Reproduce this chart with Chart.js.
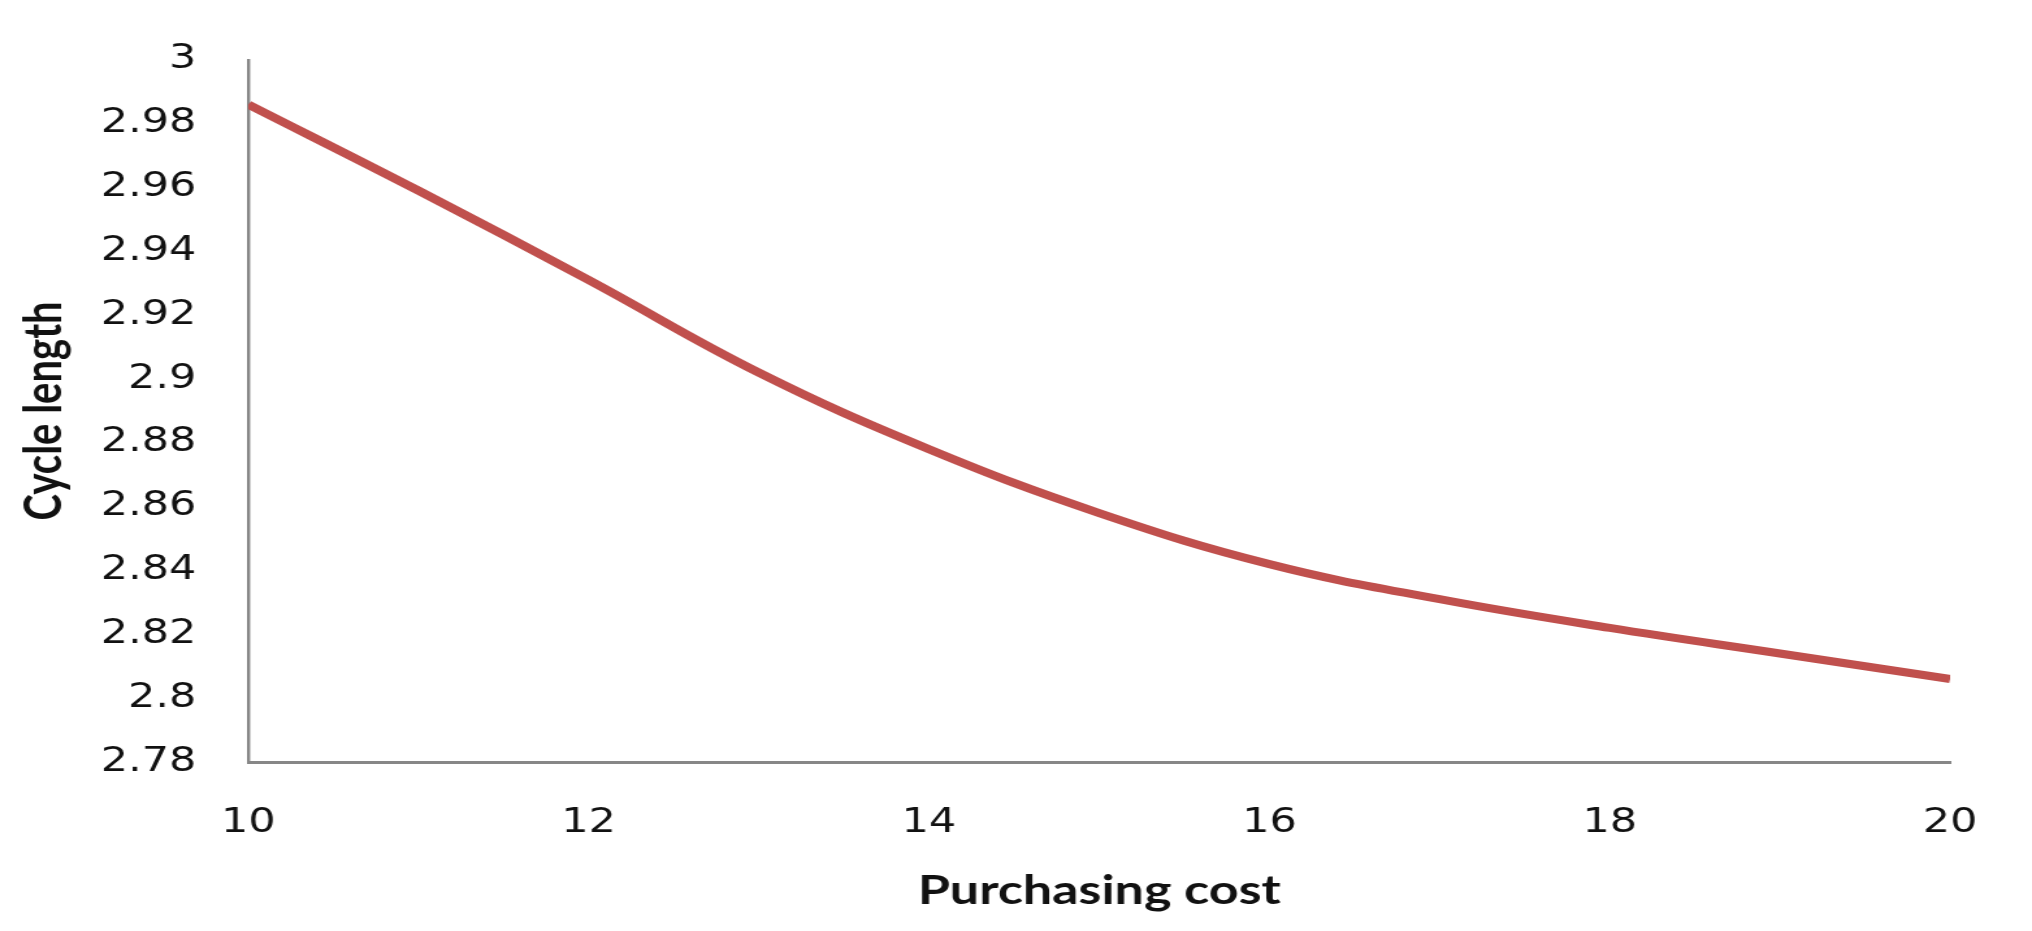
<!DOCTYPE html>
<html>
<head>
<meta charset="utf-8">
<script src="https://cdn.jsdelivr.net/npm/chart.js@4/dist/chart.umd.min.js"></script>
<style>
  html, body { margin: 0; padding: 0; background: #ffffff; overflow: hidden; }
</style>
</head>
<body>
<canvas id="c" width="1563" height="931" style="display:block;width:2032px;height:931px;"></canvas>
<script>
// ---- data ----
const purchasingCost = [10, 11, 12, 13, 14, 15, 16, 17, 18, 19, 20];
const cycleLength = [2.986, 2.959, 2.931, 2.902, 2.878, 2.858, 2.842, 2.831, 2.822, 2.814, 2.806];
const xTickValues = [10, 12, 14, 16, 18, 20];
const yTickValues = [2.78, 2.80, 2.82, 2.84, 2.86, 2.88, 2.90, 2.92, 2.94, 2.96, 2.98, 3.00];
const xTitle = 'Purchasing cost';
const yTitle = 'Cycle length';

const points = purchasingCost.map((x, i) => ({ x: x, y: cycleLength[i] }));

const tickFont = { family: '"DejaVu Sans", Verdana, sans-serif', size: 33 };
const titleFont = { family: 'Lato, "Open Sans", sans-serif', size: 40, weight: 'bold' };

const canvas = document.getElementById('c');
new Chart(canvas, {
  type: 'line',
  data: {
    datasets: [{
      data: points,
      borderColor: '#C0504D',
      borderWidth: 8,
      pointRadius: 0,
      pointHoverRadius: 0,
      fill: false,
      tension: 0.4
    }]
  },
  options: {
    responsive: false,
    animation: false,
    events: [],
    layout: { padding: { top: 36, right: 38, left: 0, bottom: 0 } },
    plugins: { legend: { display: false }, tooltip: { enabled: false } },
    scales: {
      x: {
        type: 'linear',
        min: 10,
        max: 20,
        afterBuildTicks: (scale) => { scale.ticks = xTickValues.map(v => ({ value: v })); },
        afterFit: (scale) => { scale.height = 169; },
        grid: { display: false, drawTicks: false },
        border: { display: true, color: '#878787', width: 3 },
        ticks: { color: '#111', font: tickFont, padding: 42, maxRotation: 0, autoSkip: false,
                 callback: (v) => String(v) },
        title: { display: true, text: xTitle, color: '#111', font: titleFont,
                 padding: { top: 0, bottom: 16 } }
      },
      y: {
        type: 'linear',
        min: 2.78,
        max: 3,
        afterBuildTicks: (scale) => { scale.ticks = yTickValues.map(v => ({ value: v })); },
        afterFit: (scale) => { scale.width = 191; },
        grid: { display: false, drawTicks: false },
        border: { display: true, color: '#878787', width: 2.4 },
        ticks: { color: '#111', font: tickFont, padding: 40, autoSkip: false,
                 callback: (v) => String(parseFloat(Number(v).toFixed(2))) },
        title: { display: true, text: yTitle, color: '#111', font: titleFont,
                 padding: { top: 10, bottom: 0 } }
      }
    }
  }
});
canvas.style.width = '2032px';
canvas.style.height = '931px';
</script>
</body>
</html>
